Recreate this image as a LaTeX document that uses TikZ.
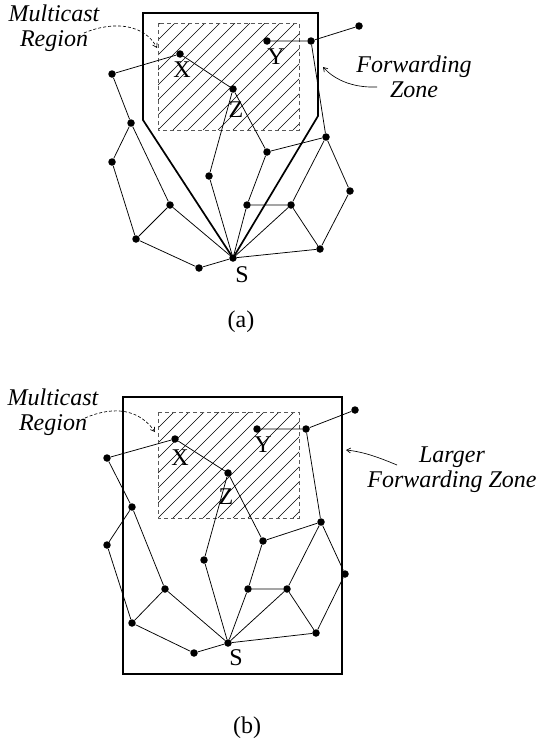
\documentclass[tikz,border=0pt]{standalone}
\usepackage{fontspec}
\setmainfont{Liberation Serif}
\usetikzlibrary{arrows.meta}

\tikzset{
  dot/.style={circle, fill, inner sep=0pt, minimum size=7.5pt},
  edge/.style={line width=0.75pt},
  zone/.style={line width=1.7pt},
  region/.style={gray!70!black, line width=0.9pt, dash pattern=on 4pt off 3pt},
  hatch/.style={line width=0.65pt},
  callout/.style={-{Straight Barb[length=4pt,width=5pt]}, line width=0.65pt},
  tag/.style={font=\fontsize{24}{25}\selectfont\itshape, align=center, inner sep=0pt},
  lbl/.style={font=\fontsize{24}{26}\selectfont, inner sep=0pt},
}

\begin{document}
\begin{tikzpicture}[x=1pt, y=-1pt]
\useasboundingbox (0,0) rectangle (539,744);

% (a) multicast region, hatched
\begin{scope}
  \clip (158,23) rectangle (299,130);
  \foreach \k in {-7,...,9}
    \draw[hatch] (158+15*\k,130) -- ++(120,-120);
\end{scope}
\draw[region] (158,23) rectangle (299,130);

% (b) multicast region, hatched
\begin{scope}
  \clip (158,412) rectangle (299,518);
  \foreach \k in {-7,...,9}
    \draw[hatch] (158+15*\k,518) -- ++(120,-120);
\end{scope}
\draw[region] (158,412) rectangle (299,518);

% vertices
\foreach \n/\x/\y in {TR/359/26, Yr/311/41, Yl/267/41, X/180/54, L/112/74,
    Z/233/89, n1/131/123, R1/326/137, M/267/152, n2/112/162, Lm/209/176,
    R2/350/191, n3/170/205, C1/247/205, C2/291/205, BL/136/239, BR/320/249,
    S/233/258, B/199/268}{%
  \node[dot] (a-\n) at (\x,\y) {};
}
\foreach \n/\x/\y in {TR/355/410, Yr/306/429, Yl/257/429, X/175/439, L/107/458,
    Z/228/473, n1/132/507, R1/321/522, M/263/541, n2/107/545, Lm/204/560,
    R2/345/574, n3/165/589, C1/248/589, C2/287/589, BL/132/623, BR/316/633,
    S/228/643, B/194/653}{%
  \node[dot] (b-\n) at (\x,\y) {};
}

% edges, same graph in both panels
\foreach \p in {a,b}{%
  \draw[edge] (\p-TR) -- (\p-Yr) -- (\p-Yl);
  \draw[edge] (\p-Yr) -- (\p-R1) -- (\p-R2) -- (\p-BR) -- (\p-S);
  \draw[edge] (\p-L) -- (\p-X) -- (\p-Z) -- (\p-M) -- (\p-R1) -- (\p-C2) -- (\p-BR);
  \draw[edge] (\p-Z) -- (\p-Lm) -- (\p-S);
  \draw[edge] (\p-M) -- (\p-C1) -- (\p-S);
  \draw[edge] (\p-C1) -- (\p-C2) -- (\p-S);
  \draw[edge] (\p-L) -- (\p-n1) -- (\p-n3) -- (\p-S);
  \draw[edge] (\p-n1) -- (\p-n2) -- (\p-BL) -- (\p-n3);
  \draw[edge] (\p-BL) -- (\p-B) -- (\p-S);
}

% forwarding zones
\draw[zone] (143,120) -- (143,13) -- (318,13) -- (318,116) -- (a-S.center) -- cycle;
\draw[zone] (123,397) rectangle (342,674);

% labels
\node[lbl] (a-Xl) at (182,70) {X};
\node[lbl] (a-Yl) at (276,57) {Y};
\node[lbl] (a-Zl) at (236,110) {Z};
\node[lbl] (a-Sl) at (242,275) {S};
\node[lbl] (b-Xl) at (180,458) {X};
\node[lbl] (b-Yl) at (263,445) {Y};
\node[lbl] (b-Zl) at (226,497) {Z};
\node[lbl] (b-Sl) at (236,658) {S};

\node[lbl] (capA) at (241,322) {(a)};
\node[lbl] (capB) at (247,728) {(b)};

% callouts
\node[tag] (a-region) at (54,28) {Multicast\\Region};
\coordinate (a-regfrom) at (84,33);
\coordinate (a-regto) at (157,48);
\draw[callout, dash pattern=on 3pt off 2pt] (a-regfrom) .. controls (115,20) and (145,25) .. (a-regto);

\node[tag] (a-fz) at (414,77) {Forwarding\\Zone};
\coordinate (a-fzfrom) at (377,87);
\coordinate (a-fzto) at (323,67);
\draw[callout] (a-fzfrom) .. controls (350,88) and (333,78) .. (a-fzto);

\node[tag] (b-region) at (53,412) {Multicast\\Region};
\coordinate (b-regfrom) at (85,418);
\coordinate (b-regto) at (155,432);
\draw[callout, dash pattern=on 3pt off 2pt] (b-regfrom) .. controls (115,405) and (140,410) .. (b-regto);

\node[tag] (b-fz) at (452,470) {Larger\\Forwarding Zone};
\coordinate (b-fzfrom) at (397,465);
\coordinate (b-fzto) at (346,450);
\draw[callout] (b-fzfrom) .. controls (380,458) and (365,452) .. (b-fzto);
\end{tikzpicture}
\end{document}
